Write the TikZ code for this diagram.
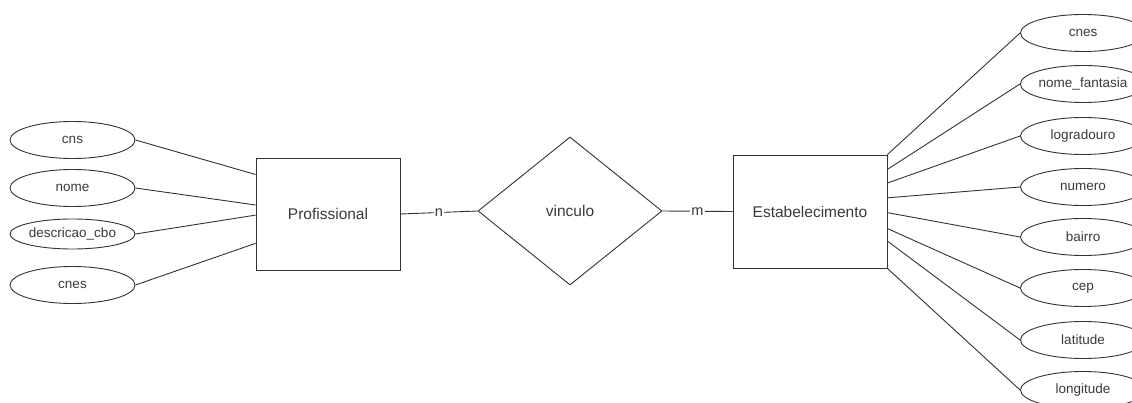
\documentclass[tikz,border=0pt]{standalone}
\usepackage{fontspec}
\setmainfont{Liberation Sans}
\usetikzlibrary{shapes.geometric,calc}
\definecolor{ink}{HTML}{333333}
\definecolor{txt}{HTML}{3A3A3A}
\begin{document}
\begin{tikzpicture}[x=1pt,y=-1pt,
  every node/.style={text=txt},
  attr/.style={draw=ink,line width=0.9pt,ellipse,minimum width=125pt,minimum height=37pt,inner sep=0pt,font=\fontsize{13.5}{15}\selectfont},
  entity/.style={draw=ink,line width=0.9pt,rectangle,inner sep=0pt,font=\fontsize{15.5}{18}\selectfont},
  rel/.style={draw=ink,line width=0.9pt,diamond,minimum width=184pt,minimum height=148pt,inner sep=0pt,font=\fontsize{15.5}{18}\selectfont},
  link/.style={draw=ink,line width=0.9pt},
  card/.style={fill=white,inner sep=1pt,font=\fontsize{14.5}{16}\selectfont}]
\clip (0,0) rectangle (1132,403);
\fill[white] (0,0) rectangle (1132,403);
% entities
\node[entity,minimum width=144pt,minimum height=112pt] (pro) at (328,214) {Profissional};
\node[entity,minimum width=154pt,minimum height=113pt] (est) at (810,211.5) {Estabelecimento};
\node[rel] (vin) at (570,211) {vinculo};
% left attributes
\node[attr] (cns) at (72.5,140) {cns};
\node[attr] (nome) at (72.5,188) {nome};
\node[attr,minimum height=30pt] (cbo) at (72.5,234) {descricao\_cbo};
\node[attr] (cnesp) at (72.5,285) {cnes};
% right attributes
\node[attr] (cnese) at (1083,33) {cnes};
\node[attr] (fant) at (1083,84) {nome\_fantasia};
\node[attr] (logr) at (1083,136) {logradouro};
\node[attr] (num) at (1083,187) {numero};
\node[attr] (bai) at (1083,237) {bairro};
\node[attr] (cep) at (1083,288) {cep};
\node[attr] (lat) at (1083,340) {latitude};
\node[attr] (lon) at (1083,390) {longitude};
% left connectors
\draw[link] (cns.east) -- ($(pro.north west)!0.15!(pro.south west)$);
\draw[link] (nome.east) -- ($(pro.north west)!0.42!(pro.south west)$);
\draw[link] (cbo.east) -- ($(pro.north west)!0.51!(pro.south west)$);
\draw[link] (cnesp.east) -- ($(pro.north west)!0.76!(pro.south west)$);
% relationship connectors
\draw[link] (pro.east) -- node[card] {n} (vin.west);
\draw[link] (vin.east) -- node[card] {m} (est.west);
% right connectors
\draw[link] (est.north east) -- (cnese.west);
\draw[link] ($(est.north east)!0.13!(est.south east)$) -- (fant.west);
\draw[link] ($(est.north east)!0.25!(est.south east)$) -- (logr.west);
\draw[link] ($(est.north east)!0.38!(est.south east)$) -- (num.west);
\draw[link] ($(est.north east)!0.51!(est.south east)$) -- (bai.west);
\draw[link] ($(est.north east)!0.65!(est.south east)$) -- (cep.west);
\draw[link] ($(est.north east)!0.76!(est.south east)$) -- (lat.west);
\draw[link] (est.south east) -- (lon.west);
\end{tikzpicture}
\end{document}
